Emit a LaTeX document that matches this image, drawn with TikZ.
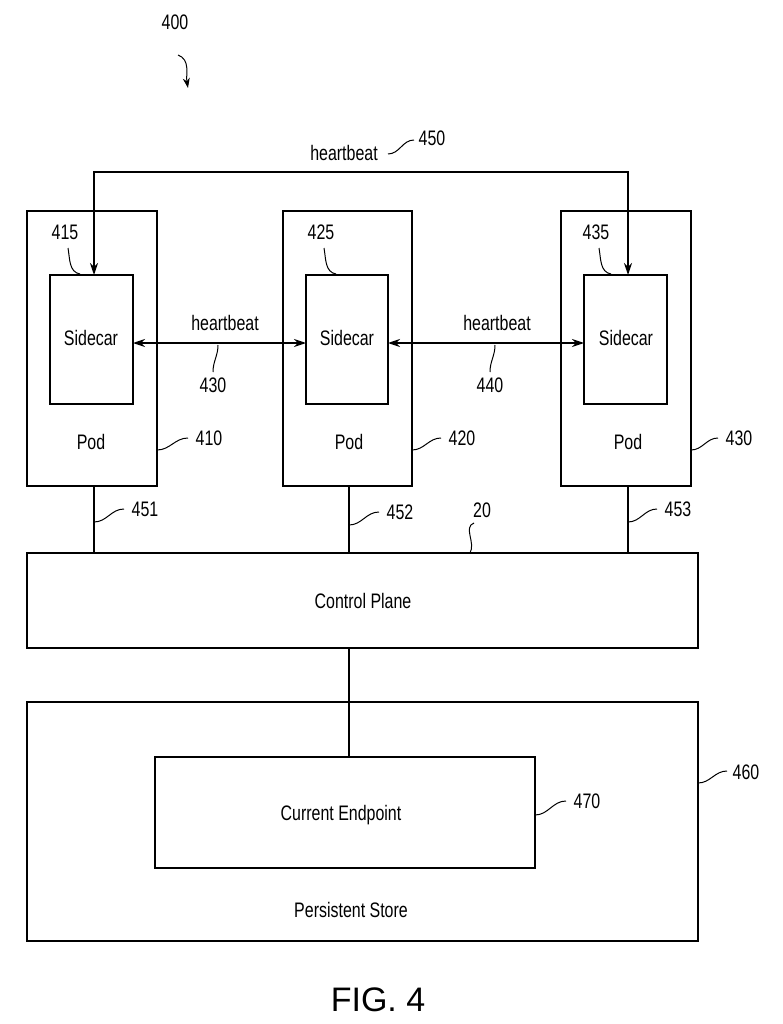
\documentclass[tikz,border=0pt]{standalone}
\usepackage{fontspec}
\setmainfont{Liberation Sans}
\usetikzlibrary{arrows.meta}
\begin{document}
\begin{tikzpicture}[x=1pt,y=-1pt,line width=1.3pt,
 txt/.style={font=\fontsize{21}{23}\selectfont\addfontfeatures{FakeStretch=0.76}},
 lbl/.style={font=\fontsize{21}{23}\selectfont\addfontfeatures{FakeStretch=0.76}},
 arr/.style={-{Stealth[length=12pt,width=8pt]}},
 lead/.style={line width=1pt}]
\useasboundingbox (0,0) rectangle (783,1024);
% pods
\draw (27,211) rectangle (157,486); \draw (283,211) rectangle (412,486); \draw (561,211) rectangle (691,486);
\draw (50,275) rectangle (133,404); \draw (306,275) rectangle (388,404); \draw (584,275) rectangle (667,404);
\node[txt] (s1) at (91,338) {Sidecar}; \node[txt] (s2) at (347,338) {Sidecar}; \node[txt] (s3) at (626,338) {Sidecar};
\node[txt] (p1) at (91,442) {Pod}; \node[txt] (p2) at (349,442) {Pod}; \node[txt] (p3) at (628,442) {Pod};
\coordinate (a) at (94,275); \coordinate (b) at (628,275);
\draw[arr] (349,172) -| (a); \draw[arr] (349,172) -| (b);
\node[txt] (hb0) at (344,153) {heartbeat};
\draw[{Stealth[length=12pt,width=8pt]}-{Stealth[length=12pt,width=8pt]}] (133,343) -- (306,343);
\draw[{Stealth[length=12pt,width=8pt]}-{Stealth[length=12pt,width=8pt]}] (388,343) -- (584,343);
\node[txt] (hb1) at (225,323) {heartbeat}; \node[txt] (hb2) at (497,323) {heartbeat};
\node[lbl] (l430a) at (213,385) {430}; \draw[lead] (213,372) to[out=90,in=-90] (218,345);
\node[lbl] (l440) at (490,385) {440}; \draw[lead] (490,372) to[out=90,in=-90] (495,345);
\node[lbl] (l450) at (432,138) {450}; \draw[lead] (388,154) to[out=0,in=180] (414,140);
\node[lbl] (l400) at (175,22) {400}; \draw[lead,-{Stealth[length=10pt,width=7pt]}] (178,55) to[out=-20,in=100] (188,88);
\node[lbl] (l415) at (65,232) {415}; \draw[lead] (68,248) to[out=-80,in=170] (80,274);
\node[lbl] (l425) at (321,232) {425}; \draw[lead] (324,248) to[out=-80,in=170] (336,274);
\node[lbl] (l435) at (596,232) {435}; \draw[lead] (599,248) to[out=-80,in=170] (611,274);
\node[lbl] (l410) at (209,438) {410}; \draw[lead] (157,450) to[out=0,in=180] (188,438);
\node[lbl] (l420) at (462,438) {420}; \draw[lead] (412,450) to[out=0,in=180] (441,438);
\node[lbl] (l430) at (739,438) {430}; \draw[lead] (691,450) to[out=0,in=180] (718,438);
% control plane
\draw (27,553) rectangle (698,648);
\node[txt] (cp) at (363,601) {Control Plane};
\draw (94,486) -- (94,553); \draw (349,486) -- (349,553); \draw (628,486) -- (628,553);
\node[lbl] (l451) at (145,509) {451}; \draw[lead] (94,522) to[out=0,in=180] (124,509);
\node[lbl] (l452) at (400,512) {452}; \draw[lead] (349,525) to[out=0,in=180] (379,512);
\node[lbl] (l453) at (678,509) {453}; \draw[lead] (628,522) to[out=0,in=180] (657,509);
\node[lbl] (l20) at (482,510) {20}; \draw[lead] (470,553) to[out=60,in=200] (474,523);
% store
\draw (27,702) rectangle (698,941);
\draw (155,757) rectangle (535,868);
\draw (349,648) -- (349,757);
\node[txt] (ce) at (341,815) {Current Endpoint};
\node[txt] (ps) at (351,910) {Persistent Store};
\node[lbl] (l460) at (746,772) {460}; \draw[lead] (698,783) to[out=0,in=180] (727,771);
\node[lbl] (l470) at (587,801) {470}; \draw[lead] (535,815) to[out=0,in=180] (566,801);
\node[font=\fontsize{34}{38}\selectfont] (fig) at (378,1000) {FIG. 4};
\end{tikzpicture}
\end{document}
